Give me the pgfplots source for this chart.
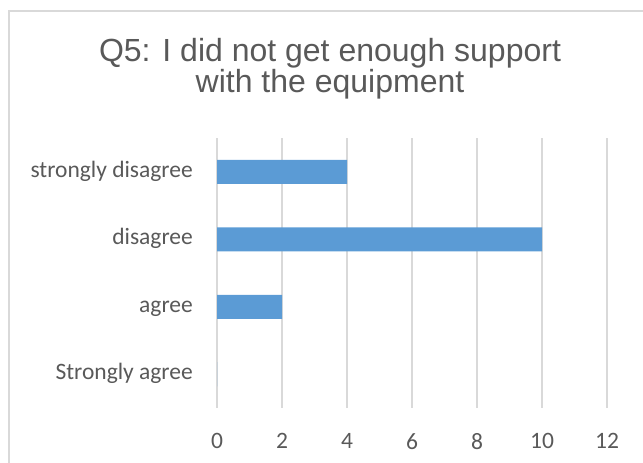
\documentclass[border=0pt]{standalone}
\usepackage{fontspec}
\setmainfont{Liberation Sans}
\newfontfamily\calibri{Carlito}
\usepackage{pgfplots}
\pgfplotsset{compat=1.18}
\definecolor{barblue}{HTML}{5B9BD5}
\definecolor{gridgray}{HTML}{D9D9D9}
\definecolor{txtgray}{HTML}{595959}

\begin{document}
\begin{tikzpicture}
\useasboundingbox (0,0) rectangle (643bp,463bp);
% chart frame (only left and top edges fall inside the picture)
\draw[gridgray, line width=1.2bp] (9bp,-20bp) -- (9bp,452bp) -- (680bp,452bp);
% title
\node[anchor=base, text=txtgray, font=\fontsize{32bp}{32bp}\selectfont] at (330bp,401.5bp) {Q5: I did not get enough support};
\node[anchor=base, text=txtgray, font=\fontsize{32bp}{32bp}\selectfont] at (330bp,370bp) {with the equipment};
\begin{axis}[
    at={(217bp,55bp)}, anchor=south west,
    scale only axis, width=390bp, height=270bp,
    xbar, bar width=24bp,
    xmin=0, xmax=12, ymin=-0.5, ymax=3.5,
    xtick={0,2,...,12},
    ytick={0,1,2,3},
    yticklabels={Strongly agree, agree, disagree, strongly disagree},
    axis line style={draw=none},
    major tick length=0pt,
    xmajorgrids, grid style={gridgray, line width=1.2bp},
    ticklabel style={text=txtgray, font=\calibri\fontsize{23.5bp}{28bp}\selectfont, inner sep=0pt},
    /pgf/number format/assume math mode=true,
    yticklabel style={anchor=mid east, yshift=-3bp},
    yticklabel shift=24bp,
    xticklabel shift=25bp,
]
\addplot[fill=barblue, draw=none] coordinates {
    (0,0) (2,1) (10,2) (4,3)
};
\end{axis}
\end{tikzpicture}
\end{document}
